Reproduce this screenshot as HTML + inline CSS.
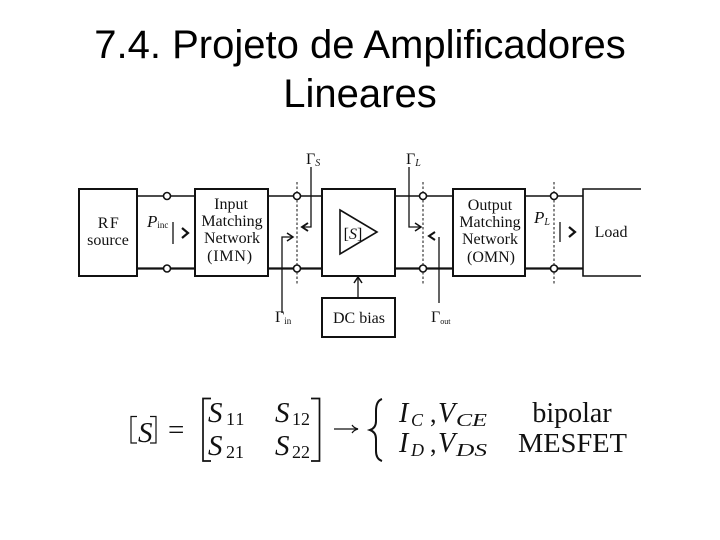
<!DOCTYPE html>
<html>
<head>
<meta charset="utf-8">
<style>
html,body{margin:0;padding:0;background:#fff;width:720px;height:540px;overflow:hidden}
svg{display:block}
.t{font-family:"Liberation Sans",sans-serif;font-size:40px;fill:#000;text-anchor:middle}
.s{font-family:"Liberation Serif",serif;fill:#111}
.m{text-anchor:middle}
.i{font-style:italic}
</style>
</head>
<body>
<svg width="720" height="540" viewBox="0 0 720 540" xmlns="http://www.w3.org/2000/svg">
<text class="t" x="360" y="58">7.4. Projeto de Amplificadores</text>
<text class="t" x="360" y="107">Lineares</text>

<g fill="none" stroke="#111">
  <path d="M137 196H195M268 196H322M395 196H453M525 196H583" stroke-width="1.400"/>
  <path d="M137 268.500H195M268 268.500H322M395 268.500H453M525 268.500H583" stroke-width="2.200"/>
  <rect x="79" y="189" width="58" height="87" stroke-width="2"/>
  <rect x="195" y="189" width="73" height="87" stroke-width="2"/>
  <rect x="322" y="189" width="73" height="87" stroke-width="2"/>
  <rect x="453" y="189" width="72" height="87" stroke-width="2"/>
  <path d="M641 189H583V276H641" stroke-width="1.600"/>
  <rect x="322" y="298" width="73" height="39" stroke-width="2"/>
  <path d="M340 210L377 232L340 254Z" stroke-width="1.600"/>
  <path d="M297 182V284M423 182V284M554 182V284" stroke-width="1" stroke-dasharray="2.500 2"/>
  <path d="M358 298V278" stroke-width="1.300"/>
  <path d="M354 283L358 277L362 283" stroke-width="1.500"/>
  <path d="M311 167V227H302" stroke-width="1.300"/>
  <path d="M308 223L302 227L308 231" stroke-width="1.900"/>
  <path d="M282 313V237H292" stroke-width="1.300"/>
  <path d="M287 233L293 237L287 241" stroke-width="1.500"/>
  <path d="M409 167V227H420" stroke-width="1.300"/>
  <path d="M415 223L421 227L415 231" stroke-width="1.500"/>
  <path d="M439 237V303" stroke-width="1.300"/>
  <path d="M435 232L429 236L435 240" stroke-width="2"/>
  <path d="M173 222V244M560 222V242" stroke-width="1.300"/>
  <path d="M182 228L188 233L182 238M569 227L575 232L569 237" stroke-width="2.200"/>
</g>
<g fill="#fff" stroke="#111" stroke-width="1.600">
  <circle cx="167" cy="196" r="3.500"/><circle cx="297" cy="196" r="3.500"/>
  <circle cx="423" cy="196" r="3.500"/><circle cx="554" cy="196" r="3.500"/>
  <circle cx="167" cy="268.500" r="3.500"/><circle cx="297" cy="268.500" r="3.500"/>
  <circle cx="423" cy="268.500" r="3.500"/><circle cx="554" cy="268.500" r="3.500"/>
</g>

<g class="s" font-size="16">
  <text class="m" x="109" y="228" letter-spacing="1.500">RF</text>
  <text class="m" x="108" y="245">source</text>
  <text class="m" x="231" y="209">Input</text>
  <text class="m" x="232" y="226">Matching</text>
  <text class="m" x="232" y="243">Network</text>
  <text class="m" x="230" y="261" letter-spacing="0.800">(IMN)</text>
  <text class="m" x="490" y="210">Output</text>
  <text class="m" x="490" y="227">Matching</text>
  <text class="m" x="490" y="244">Network</text>
  <text class="m" x="491" y="262">(OMN)</text>
  <text class="m" x="611" y="237">Load</text>
  <text class="m" x="359" y="323">DC bias</text>
  <text class="m" x="353" y="239">[<tspan class="i">S</tspan>]</text>
  <text class="i" x="147" y="227" font-size="17">P<tspan font-size="9" dy="1" font-style="normal">inc</tspan></text>
  <text class="i" x="534" y="223" font-size="17">P<tspan font-size="10" dy="2">L</tspan></text>
  <text x="306" y="164">Γ<tspan font-size="10" dy="2" class="i">S</tspan></text>
  <text x="406" y="164">Γ<tspan font-size="10" dy="2" class="i">L</tspan></text>
  <text x="275" y="322">Γ<tspan font-size="9" dy="2">in</tspan></text>
  <text x="431" y="322">Γ<tspan font-size="8" dy="2">out</tspan></text>
</g>

<g class="s" font-size="29" fill="#111">
  <text class="i" x="138" y="442">S</text>
  <text x="168" y="439">=</text>
  <text class="i" x="208" y="422">S</text><text x="226" y="425" font-size="18" letter-spacing="1">11</text>
  <text class="i" x="275" y="422">S</text><text x="292" y="425" font-size="18">12</text>
  <text class="i" x="208" y="455">S</text><text x="226" y="458" font-size="18">21</text>
  <text class="i" x="275" y="455">S</text><text x="292" y="458" font-size="18">22</text>

  <g font-size="28" class="i">
    <text x="399" y="422">I</text>
    <text x="438" y="422">V</text>
    <text x="399" y="452">I</text>
    <text x="438" y="452">V</text>
  </g>
  <text x="430" y="422" font-size="26">,</text>
  <text x="430" y="452" font-size="26">,</text>
  <g font-size="18" class="i">
    <text x="411" y="426">C</text>
    <text x="456" y="426" textLength="31" lengthAdjust="spacingAndGlyphs">CE</text>
    <text x="411" y="456">D</text>
    <text x="456" y="456" textLength="31" lengthAdjust="spacingAndGlyphs">DS</text>
  </g>
  <text class="m" x="572" y="422" font-size="28">bipolar</text>
  <text x="518" y="452" font-size="27" textLength="109" lengthAdjust="spacingAndGlyphs">MESFET</text>
</g>
<g fill="none" stroke="#111" stroke-width="1.900">
  <path d="M137 416.500H131V443H137M150 416.500H156V443H150" stroke-width="1.200"/>
  <path d="M211 398.500H203V461H211M311 398.500H319.500V461H311" stroke-width="1.700"/>
  <path d="M334 429H358" stroke-width="1.200"/>
  <path d="M352 425Q354 428 358 429Q354 430 352 433" stroke-width="1.200"/>
  <path d="M382 399Q376 401 376 411V421Q376 428 370 430Q376 432 376 439V451Q376 459 382 461" stroke-width="2"/>
</g>
</svg>
</body>
</html>
